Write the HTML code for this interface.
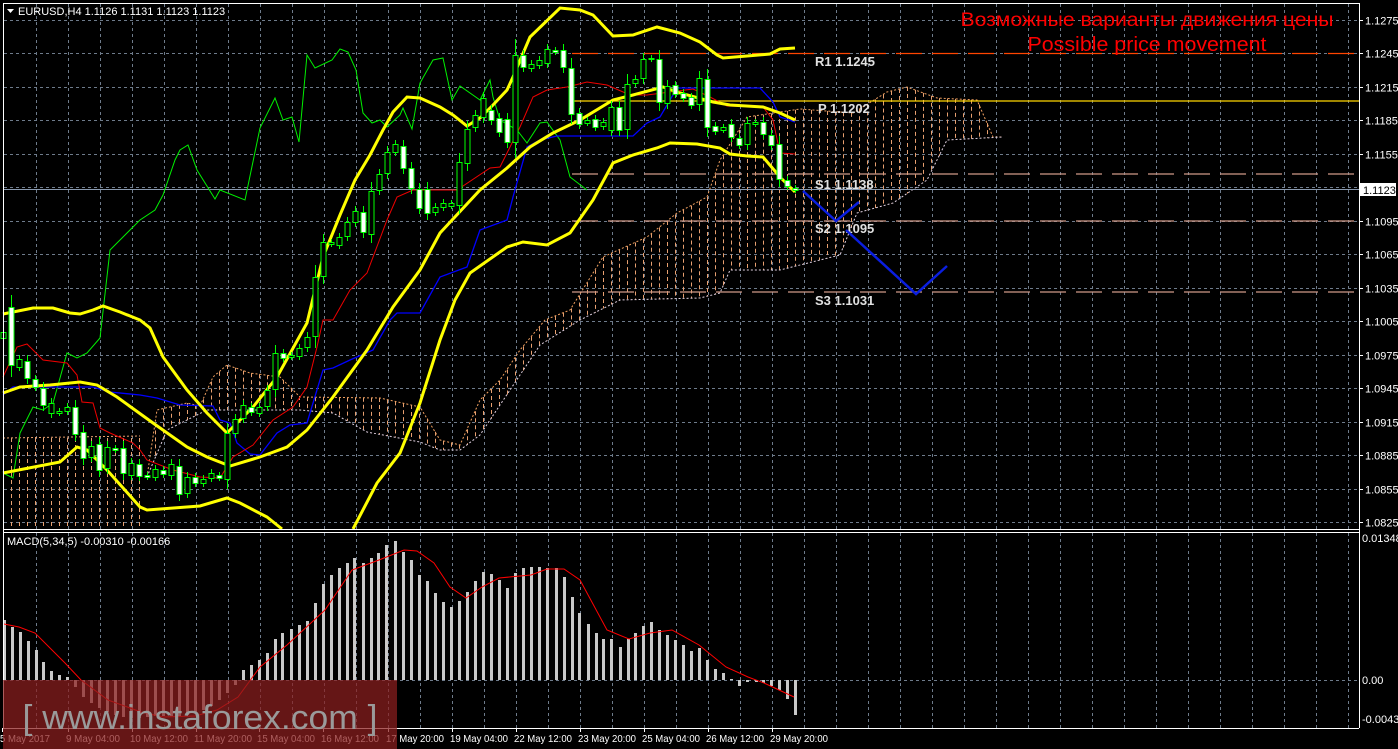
<!DOCTYPE html>
<html><head><meta charset="utf-8"><style>
html,body{margin:0;padding:0;background:#000;width:1398px;height:749px;overflow:hidden}
svg{display:block}
text{font-family:"Liberation Sans",sans-serif}
</style></head><body>
<svg id="s" width="1398" height="749" xmlns="http://www.w3.org/2000/svg">
<rect width="1398" height="749" fill="#000"/>
<g id="grid"></g>
<g id="cloud"></g>
<line x1="572" y1="53.5" x2="1359" y2="53.5" stroke="#ff4500" stroke-width="1.3" stroke-dasharray="26,10"/>
<line x1="572" y1="101" x2="1359" y2="101" stroke="#ffd700" stroke-width="1.3"/>
<line x1="572" y1="174" x2="1359" y2="174" stroke="#d09a88" stroke-width="1.3" stroke-dasharray="26,10"/>
<line x1="572" y1="221" x2="1359" y2="221" stroke="#d09a88" stroke-width="1.3" stroke-dasharray="26,10"/>
<line x1="572" y1="292" x2="1359" y2="292" stroke="#d09a88" stroke-width="1.3" stroke-dasharray="26,10"/>
<line x1="3" y1="189.5" x2="1359" y2="189.5" stroke="#8a9ab0" stroke-width="1"/>
<g id="lines"></g>
<g id="candles"></g>
<g font-family="Liberation Mono,monospace" font-weight="bold" font-size="13" fill="#e0e0e0">
<text x="815" y="66">R1 1.1245</text>
<text x="818" y="113">P 1.1202</text>
<text x="815" y="189">S1 1.1138</text>
<text x="815" y="233">S2 1.1095</text>
<text x="815" y="305">S3 1.1031</text>
</g>
<polyline points="803,191 836,221 859,202" fill="none" stroke="#0a1ee0" stroke-width="2.5"/>
<polyline points="846,230 916,294 947,266" fill="none" stroke="#0a1ee0" stroke-width="2.5"/>
<text x="1147" y="26" fill="#ff0000" font-size="19" text-anchor="middle" textLength="373" lengthAdjust="spacingAndGlyphs">Возможные варианты движения цены</text>
<text x="1147" y="51" fill="#ff0000" font-size="20" text-anchor="middle" textLength="239" lengthAdjust="spacingAndGlyphs">Possible price movement</text>
<g id="macd"></g>
<g stroke="#fff" fill="none" stroke-width="1">
<line x1="3" y1="3.5" x2="1359" y2="3.5"/>
<line x1="3.5" y1="3" x2="3.5" y2="728"/>
<line x1="1359.5" y1="3" x2="1359.5" y2="728"/>
<line x1="3" y1="529.5" x2="1359" y2="529.5"/>
<line x1="3" y1="532.5" x2="1359" y2="532.5"/>
<line x1="3" y1="728.5" x2="1359" y2="728.5"/>
</g>
<polygon points="7,9 14,9 10.5,13" fill="#fff"/>
<text x="18" y="15" fill="#fff" font-size="11">EURUSD,H4  1.1126 1.1131 1.1123 1.1123</text>
<text x="7" y="545" fill="#fff" font-size="11">MACD(5,34,5) -0.00310 -0.00166</text>
<g id="axis" font-size="11" fill="#fff"></g>
<rect x="1360" y="183" width="36" height="13" fill="#fff"/>
<text x="1363" y="194" font-size="11" fill="#000">1.1123</text>
<rect x="3" y="680" width="394" height="69" fill="rgba(140,30,30,0.72)"/>
<text x="200" y="729" font-size="34" fill="#9a9a9a" text-anchor="middle" textLength="355" lengthAdjust="spacingAndGlyphs">[ www.instaforex.com ]</text>
</svg>
<script>
var NS="http://www.w3.org/2000/svg";
function el(p,t,a){var e=document.createElementNS(NS,t);for(var k in a)e.setAttribute(k,a[k]);document.getElementById(p).appendChild(e);return e;}
function pts(a){return a.map(function(p){return p[0]+","+p[1]}).join(" ");}
for(var x=36;x<1359;x+=32){el("grid","line",{x1:x+.5,y1:4,x2:x+.5,y2:529,stroke:"#6e7b8b","stroke-dasharray":"3,3"});el("grid","line",{x1:x+.5,y1:533,x2:x+.5,y2:728,stroke:"#6e7b8b","stroke-dasharray":"3,3"});}
var labs=["1.1275","1.1245","1.1215","1.1185","1.1155","","1.1095","1.1065","1.1035","1.1005","1.0975","1.0945","1.0915","1.0885","1.0855","1.0825"];
var lvs=[1.1275,1.1245,1.1215,1.1185,1.1155,1.1125,1.1095,1.1065,1.1035,1.1005,1.0975,1.0945,1.0915,1.0885,1.0855,1.0825];
for(var i=0;i<16;i++){var y=Math.round(20+(1.1275-lvs[i])*11156)+.5;
el("grid","line",{x1:4,y1:y,x2:1359,y2:y,stroke:"#6e7b8b","stroke-dasharray":"3,3"});
el("axis","line",{x1:1359,y1:y,x2:1363,y2:y,stroke:"#fff"});
if(labs[i]){var t=el("axis","text",{x:1365,y:y+4});t.textContent=labs[i];}}
el("grid","line",{x1:4,y1:680.5,x2:1359,y2:680.5,stroke:"#6e7b8b","stroke-dasharray":"3,3"});
[["0.01348",542],["0.00",684],["-0.00438",723]].forEach(function(a){var t=el("axis","text",{x:1362,y:a[1]});t.textContent=a[0];});
var dates=[["5 May 2017",0,50],["9 May 04:00",66,54],["10 May 12:00",130,58],["11 May 20:00",194,58],["15 May 04:00",257,58],["16 May 12:00",321,58],["17 May 20:00",386,58],["19 May 04:00",450,58],["22 May 12:00",514,58],["23 May 20:00",578,58],["25 May 04:00",642,58],["26 May 12:00",706,58],["29 May 20:00",770,58]];
dates.forEach(function(d){var t=el("axis","text",{x:d[1],y:742,"font-size":10,textLength:d[2],lengthAdjust:"spacingAndGlyphs"});t.textContent=d[0];el("axis","line",{x1:d[1]+2.5,y1:728,x2:d[1]+2.5,y2:732,stroke:"#fff"});});
function interp(a,x){if(x<=a[0][0])return a[0][1];for(var i=1;i<a.length;i++){if(x<=a[i][0]){var t=(x-a[i-1][0])/(a[i][0]-a[i-1][0]);return a[i-1][1]+t*(a[i][1]-a[i-1][1]);}}return a[a.length-1][1];}
var top2=[[147,477],[157,410],[187,403],[200,406],[213,377],[227,365],[250,373],[280,377],[300,397],[380,398],[420,407],[440,440],[460,445],[480,400],[500,380],[520,350],[545,320],[570,310],[603,257],[647,237],[677,213],[707,197],[720,160],[747,117],[800,109],[853,113],[887,92],[907,87],[937,98],[977,100],[993,137],[1003,137]];
var bot2=[[147,477],[167,430],[207,410],[300,410],[333,413],[367,432],[420,442],[440,450],[460,450],[480,435],[510,390],[540,345],[580,320],[620,300],[700,298],[720,293],[730,270],[780,270],[840,255],[857,213],[893,203],[927,180],[947,140],[1003,137]];
for(var x=3;x<=140;x+=8){el("cloud","line",{x1:x+.5,y1:438,x2:x+.5,y2:528,stroke:"#e8a070","stroke-dasharray":"4,3"});}
el("cloud","line",{x1:3,y1:438,x2:140,y2:436,stroke:"#e8a070","stroke-dasharray":"2,2"});
for(var x=155;x<=1000;x+=8){var a=interp(top2,x),b=interp(bot2,x);if(b-a>3)el("cloud","line",{x1:x+.5,y1:a,x2:x+.5,y2:b,stroke:"#e8a070","stroke-dasharray":"4,3"});}
el("cloud","polyline",{points:pts(top2),fill:"none",stroke:"#f0a060","stroke-dasharray":"2,2"});
el("cloud","polyline",{points:pts(bot2),fill:"none",stroke:"#e0d0e0","stroke-dasharray":"2,2"});
var upper=[[3,314],[33,308],[53,308],[70,313],[80,314],[93,310],[103,306],[120,312],[140,320],[150,328],[163,357],[187,390],[207,413],[227,433],[253,407],[277,377],[307,323],[323,257],[340,215],[355,180],[370,155],[383,130],[393,112],[407,97],[420,98],[440,107],[453,115],[467,126],[480,118],[493,105],[507,90],[513,77],[530,37],[560,8],[580,10],[593,15],[613,36],[633,35],[657,27],[680,33],[700,42],[717,55],[723,58],[747,56],[770,54],[780,49],[795,48]];
var mid=[[3,393],[20,387],[50,385],[80,382],[97,385],[117,397],[153,423],[187,447],[207,457],[230,466],[260,457],[287,447],[307,430],[333,397],[367,350],[393,307],[420,270],[440,233],[480,190],[507,168],[530,147],[553,133],[580,120],[613,100],[633,95],[663,87],[680,93],[713,102],[730,105],[763,107],[780,113],[795,120]];
var lower=[[3,473],[60,462],[77,447],[87,450],[107,470],[140,507],[147,510],[200,506],[227,498],[240,503],[267,517],[282,529]];
var lower2=[[353,529],[377,483],[400,453],[420,403],[440,340],[455,300],[470,273],[507,247],[523,242],[547,245],[570,233],[593,200],[613,163],[633,155],[657,148],[670,143],[697,144],[720,148],[730,154],[747,156],[763,157],[780,177],[795,192]];
var red=[[3,377],[17,347],[27,344],[43,360],[67,363],[77,375],[82,402],[93,403],[100,428],[110,433],[133,443],[140,450],[147,460],[160,465],[173,470],[200,477],[220,478],[233,457],[253,445],[273,420],[293,407],[307,387],[317,347],[323,320],[333,320],[350,290],[367,273],[387,220],[397,197],[413,190],[457,190],[490,168],[500,167],[520,127],[533,97],[547,90],[567,87],[587,82],[607,85],[630,95],[647,95],[693,89],[710,97],[727,106],[763,107],[773,120],[780,153],[795,154]];
var blue=[[3,395],[13,387],[93,387],[110,392],[140,395],[157,398],[180,405],[213,406],[220,420],[230,423],[237,443],[250,454],[260,455],[277,433],[290,425],[307,423],[323,370],[333,368],[350,360],[373,350],[390,320],[397,313],[420,313],[440,277],[467,267],[480,230],[507,220],[513,197],[527,147],[540,140],[557,136],[633,136],[647,123],[660,117],[677,88],[760,88],[773,102],[780,117],[795,122]];
var green=[[3,473],[13,478],[20,433],[33,407],[43,410],[53,403],[67,353],[77,358],[87,353],[100,338],[110,250],[125,235],[140,220],[155,210],[163,195],[175,160],[180,150],[188,145],[197,170],[215,199],[220,190],[245,200],[260,128],[275,98],[283,120],[292,117],[299,142],[307,55],[315,68],[332,60],[340,49],[348,52],[356,70],[363,113],[372,123],[380,120],[387,127],[400,115],[403,108],[412,129],[420,83],[433,60],[443,58],[452,100],[460,86],[480,100],[490,80],[493,97],[500,120],[517,130],[527,143],[540,123],[547,122],[560,140],[570,177],[587,190]];
el("lines","polyline",{points:pts(green),fill:"none",stroke:"#00f000","stroke-width":1});
el("lines","polyline",{points:pts(blue),fill:"none",stroke:"#0000ff","stroke-width":1.3});
el("lines","polyline",{points:pts(red),fill:"none",stroke:"#ee0000","stroke-width":1});
[upper,mid,lower,lower2].forEach(function(p){el("lines","polyline",{points:pts(p),fill:"none",stroke:"#ffff00","stroke-width":3});});
var C=[[3,332,338,1],[11,307,365,0],[19,359,367,1],[27,361,378,0],[35,379,387,0],[43,388,405,0],[51,403,413,1],[59,411,413,1],[67,407,411,1],[75,407,434,0],[83,432,458,0],[91,446,457,1],[99,444,470,0],[107,447,468,1],[115,448,450,0],[123,448,473,0],[131,463,475,1],[139,464,476,0],[147,475,477,0],[155,469,477,1],[163,470,474,0],[171,464,475,1],[179,466,494,0],[187,477,493,1],[195,477,483,0],[203,479,483,1],[211,473,478,1],[219,475,478,0],[227,433,479,1],[235,419,433,1],[243,405,418,1],[251,407,412,0],[259,407,413,1],[267,390,406,1],[275,353,389,1],[283,353,358,0],[291,355,357,1],[299,348,356,1],[307,337,347,1],[315,277,336,1],[323,242,276,1],[331,242,244,1],[339,237,245,1],[347,222,236,1],[355,211,222,1],[363,212,232,0],[371,191,234,1],[379,174,190,1],[387,152,173,1],[395,144,152,1],[403,146,168,0],[411,168,188,0],[419,189,208,0],[427,189,213,0],[435,207,212,1],[443,203,207,1],[451,203,206,1],[459,162,205,1],[467,129,163,1],[475,115,127,1],[483,98,117,1],[491,110,120,0],[499,118,132,0],[507,119,142,0],[515,55,142,1],[523,55,67,0],[531,64,68,1],[539,60,65,1],[547,49,63,1],[555,50,52,0],[563,50,67,0],[571,68,114,0],[579,113,124,0],[587,120,123,1],[595,119,127,0],[603,122,126,1],[611,107,130,1],[619,107,130,0],[627,84,129,1],[635,79,83,1],[643,59,78,1],[651,58,59,1],[659,59,102,0],[667,86,103,1],[675,85,94,0],[683,93,98,0],[691,97,105,0],[699,78,104,1],[707,79,127,0],[715,126,131,0],[723,127,130,1],[731,124,137,0],[739,138,145,0],[747,123,144,1],[755,122,124,1],[763,122,134,0],[771,135,145,0],[779,144,179,0],[787,180,186,0],[795,188,190,0]];
C.forEach(function(c){var x=c[0]+.5,h=Math.max(3,Math.round((c[2]-c[1])*0.15)+3);
el("candles","line",{x1:x,y1:c[1]-h,x2:x,y2:c[2]+h,stroke:"#00ff00"});
el("candles","rect",{x:c[0]-2,y:c[1]+.5,width:5,height:Math.max(1,c[2]-c[1]),fill:c[3]?"#000":"#fff",stroke:"#00ff00"});});
var H=[[4,620],[12,627],[20,632],[28,641],[36,650],[43,662],[51,671],[59,675],[67,677],[75,687],[83,697],[91,703],[99,708],[107,712],[115,715],[123,717],[131,718],[139,718],[147,717],[155,716],[163,716],[171,716],[179,716],[187,715],[195,713],[203,710],[211,706],[219,700],[227,693],[235,685],[243,670],[251,665],[259,660],[267,653],[275,639],[282,633],[291,629],[299,625],[307,621],[315,603],[323,584],[331,575],[339,568],[347,563],[354,558],[363,563],[371,558],[378,553],[386,545],[395,541],[403,552],[411,560],[419,575],[427,581],[435,593],[443,602],[451,607],[459,601],[467,592],[475,581],[483,572],[491,574],[499,580],[507,588],[515,573],[523,568],[531,567],[539,567],[547,568],[556,568],[564,577],[572,597],[579,613],[588,624],[596,633],[603,639],[611,639],[620,647],[628,639],[635,633],[643,626],[651,622],[659,630],[667,635],[675,640],[683,645],[691,651],[699,648],[707,660],[715,669],[723,673],[731,679],[739,686],[747,682],[756,682],[763,683],[771,686],[779,690],[787,699],[795,715]];
H.forEach(function(h){var y0=680,y=h[1];el("macd","rect",{x:h[0]-1,y:Math.min(y,y0),width:3,height:Math.max(1,Math.abs(y-y0)),fill:"#c8c8c8"});});
var sig=[[4,624],[19,627],[35,633],[65,663],[81,680],[108,700],[141,712],[163,717],[195,716],[217,710],[238,697],[260,667],[287,645],[325,610],[352,570],[379,560],[404,550],[417,551],[434,563],[450,587],[466,598],[482,587],[499,578],[531,575],[547,569],[564,569],[580,580],[607,630],[629,639],[650,633],[672,630],[699,645],[726,667],[748,677],[764,683],[794,697]];
el("macd","polyline",{points:pts(sig),fill:"none",stroke:"#ff0000","stroke-width":1});
</script>
</body></html>
